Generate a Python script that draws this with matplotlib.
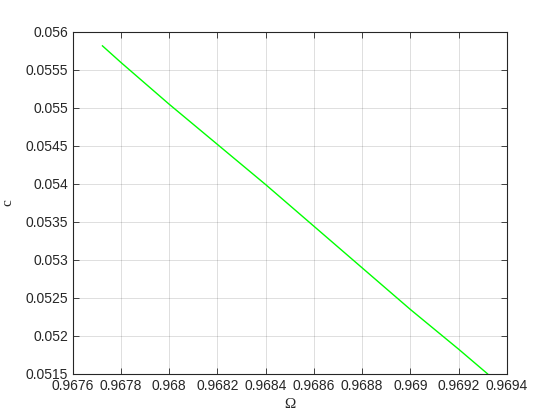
import matplotlib
matplotlib.use('Agg')
import matplotlib.pyplot as plt
import matplotlib.ticker
import numpy as np

# curve
omega = [0.967723, 0.9678, 0.968, 0.9684, 0.969, 0.9692, 0.96932]
c_vals = [0.055811, 0.055592, 0.055043, 0.053987, 0.052346, 0.051824, 0.05150]

xticks = [0.9676, 0.9678, 0.968, 0.9682, 0.9684, 0.9686, 0.9688, 0.969, 0.9692, 0.9694]
yticks = [0.0515, 0.052, 0.0525, 0.053, 0.0535, 0.054, 0.0545, 0.055, 0.0555, 0.056]

plt.rcParams.update({'font.size': 10, 'font.family': ['Liberation Sans', 'DejaVu Sans']})

axcol = '#262626'

fig = plt.figure(figsize=(5.6, 4.2), dpi=100)
ax = fig.add_axes([0.13, 0.11, 0.775, 0.815])

ax.plot(omega, c_vals, color='#00ff00', linewidth=1.0)

ax.set_xlim(0.9676, 0.9694)
ax.set_ylim(0.0515, 0.056)
ax.set_xticks(xticks)
ax.set_yticks(yticks)
ax.xaxis.set_major_formatter(matplotlib.ticker.FormatStrFormatter('%g'))
ax.yaxis.set_major_formatter(matplotlib.ticker.FormatStrFormatter('%g'))

ax.grid(True, color='#000000', alpha=0.15, linewidth=0.6)
ax.tick_params(direction='in', top=True, right=True, length=4, width=0.6,
               colors=axcol, labelcolor='#262626', labelsize=10)
for s in ax.spines.values():
    s.set_color(axcol)
    s.set_linewidth(0.8)

ax.set_xlabel('\u03a9', family=['Liberation Serif', 'DejaVu Serif'], fontsize=11, color=axcol)
ax.set_ylabel('c', family=['Liberation Serif', 'DejaVu Serif'], fontsize=11, color=axcol, labelpad=8)

fig.savefig('out.png', dpi=100)
